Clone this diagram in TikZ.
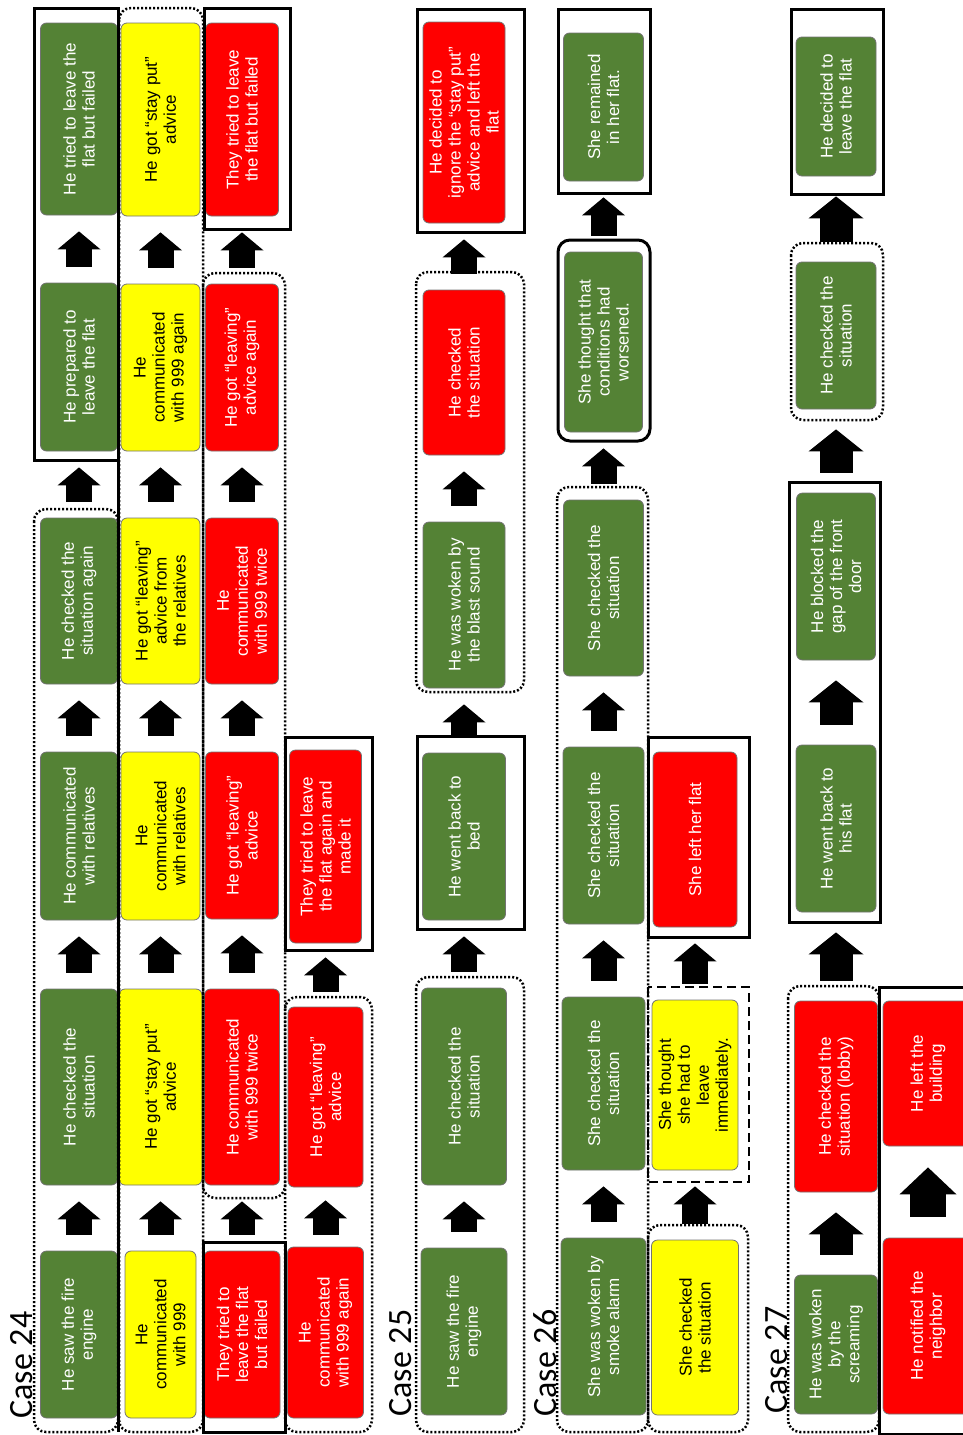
\documentclass[tikz,border=0pt]{standalone}
\usepackage{fontspec}
\setmainfont{Liberation Sans}
\newfontfamily\casefont{Carlito}
\usepackage{xcolor}
\usepackage{tikz}
\usetikzlibrary{arrows.meta}

\definecolor{evgreen}{RGB}{84,130,53}
\definecolor{evred}{RGB}{255,0,0}
\definecolor{evyellow}{RGB}{255,255,0}

\tikzset{
  event/.style={rounded corners=6pt, draw=black!55, line width=0.8pt, rotate=90,
    align=center, inner sep=2pt, minimum width=167pt, minimum height=78pt,
    font=\fontsize{17}{19}\selectfont},
  green event/.style={event, fill=evgreen, text=white},
  yellow event/.style={event, fill=evyellow, text=black},
  red event/.style={event, fill=evred, text=white},
  casetag/.style={rotate=90, inner sep=0pt, font=\casefont\fontsize{34}{40}\selectfont},
  upblock/.style={line width=26pt, -{Triangle[width=43pt,length=18pt,line width=0pt]},
    shorten <=16pt, shorten >=16pt},
  bigblock/.style={line width=33pt, -{Triangle[width=55pt,length=22pt,line width=0pt]},
    shorten <=20pt, shorten >=20pt},
  wideblock/.style={line width=36pt, -{Triangle[width=57pt,length=27pt,line width=0pt]},
    shorten <=21pt, shorten >=21pt},
  dotframe/.style={line width=2.5pt, dash pattern=on 2pt off 2pt, rounded corners=12pt},
  lineframe/.style={line width=3pt},
  dashframe/.style={line width=2.5pt, dash pattern=on 9pt off 5pt},
}

\begin{document}
\begin{tikzpicture}[x=1pt,y=1pt,yscale=-1,xscale=1]
\useasboundingbox (0,0) rectangle (963,1435);

%Case 24
\node[casetag] (t24) at (22,1365) {Case 24};

% column 1
\node[green event, minimum height=77pt] (c24a1) at (79,1334.5) {He saw the fire\\engine};
\node[green event, minimum width=196pt, minimum height=77pt] (c24a2) at (79,1087) {He checked the\\situation};
\node[green event, minimum width=168pt, minimum height=77pt] (c24a3) at (79,836) {He communicated\\with relatives};
\node[green event, minimum width=166pt, minimum height=77pt] (c24a4) at (79,601) {He checked the\\situation again};
\node[green event, minimum width=168pt, minimum height=77pt] (c24a5) at (79,367) {He prepared to\\leave the flat};
\node[green event, minimum width=192pt, minimum height=77pt] (c24a6) at (79,119) {He tried to leave the\\flat but failed};

% column 2
\node[yellow event, minimum height=71pt] (c24b1) at (160.5,1334.5) {He\\communicated\\with 999};
\node[yellow event, minimum width=196pt, minimum height=83pt] (c24b2) at (160.5,1087) {He got “stay put”\\advice};
\node[yellow event, minimum width=168pt, minimum height=79pt] (c24b3) at (160.5,836) {He\\communicated\\with relatives};
\node[yellow event, minimum width=166pt, minimum height=79pt] (c24b4) at (160.5,601) {He got “leaving”\\advice from\\the relatives};
\node[yellow event, minimum height=79pt] (c24b5) at (160.5,367.5) {He\\communicated\\with 999 again};
\node[yellow event, minimum width=193pt, minimum height=79pt] (c24b6) at (160.5,119.5) {He got “stay put”\\advice};

% column 3
\node[red event, minimum height=76pt] (c24c1) at (242,1334.5) {They tried to\\leave the flat\\but failed};
\node[red event, minimum width=196pt, minimum height=75pt] (c24c2) at (242,1087) {He communicated\\with 999 twice};
\node[red event, minimum height=73pt] (c24c3) at (242,835.5) {He got “leaving”\\advice};
\node[red event, minimum width=166pt, minimum height=73pt] (c24c4) at (242,601) {He\\communicated\\with 999 twice};
\node[red event, minimum height=73pt] (c24c5) at (242,367.5) {He got “leaving”\\advice again};
\node[red event, minimum width=193pt, minimum height=73pt] (c24c6) at (242,119.5) {They tried to leave\\the flat but failed};

% column 4
\node[red event, minimum width=171pt, minimum height=76pt] (c24d1) at (325.5,1332.5) {He\\communicated\\with 999 again};
\node[red event, minimum width=180pt, minimum height=75pt] (c24d2) at (325.5,1097) {He got “leaving”\\advice};
\node[red event, minimum width=193pt, minimum height=72pt] (c24d3) at (325.5,846.5) {They tried to leave\\the flat again and\\made it};

%Case 25
\node[casetag] (t25) at (401,1363) {Case 25};

\node[green event, minimum height=86pt] (c25a1) at (464,1331.5) {He saw the fire\\engine};
\node[green event, minimum width=197pt, minimum height=85pt] (c25a2) at (464,1086.5) {He checked the\\situation};
\node[green event, minimum height=83pt] (c25a3) at (464,836.5) {He went back to\\bed};
\node[green event, minimum width=166pt, minimum height=82pt] (c25a4) at (464,605) {He was woken by\\the blast sound};
\node[red event, minimum width=165pt, minimum height=82pt] (c25a5) at (464,372.5) {He checked\\the situation};
\node[red event, minimum width=201pt, minimum height=82pt] (c25a6) at (464,122.5) {He decided to\\ignore the “stay put”\\advice and left the\\flat};

%Case 26
\node[casetag] (t26) at (545,1363) {Case 26};

% column 1
\node[green event, minimum width=177pt, minimum height=85pt] (c26a1) at (603.5,1326.5) {She was woken by\\smoke alarm};
\node[green event, minimum width=173pt, minimum height=83pt] (c26a2) at (603.5,1083.5) {She checked the\\situation};
\node[green event, minimum width=177pt, minimum height=81pt] (c26a3) at (603.5,835.5) {She checked the\\situation};
\node[green event, minimum width=176pt, minimum height=80pt] (c26a4) at (603.5,588) {She checked the\\situation};
\node[green event, minimum width=180pt, minimum height=78pt] (c26a5) at (603.5,342) {She thought that\\conditions had\\worsened.};
\node[green event, minimum width=148pt, minimum height=80pt] (c26a6) at (603.5,107) {She remained\\in her flat.};

% column 2
\node[yellow event, minimum width=175pt, minimum height=87pt] (c26b1) at (695,1327.5) {She checked\\the situation};
\node[yellow event, minimum width=170pt, minimum height=86pt] (c26b2) at (695,1085) {She thought\\she had to\\leave\\immediately.};
\node[red event, minimum width=175pt, minimum height=84pt] (c26b3) at (695,839.5) {She left her flat};

%Case 27
\node[casetag] (t27) at (777,1360) {Case 27};

% column 1
\node[green event, minimum width=139pt, minimum height=83pt] (c27a1) at (836,1344.5) {He was woken\\by the\\screaming};
\node[red event, minimum width=191pt, minimum height=83pt] (c27a2) at (836,1096.5) {He checked the\\situation (lobby)};
\node[green event, minimum height=80pt] (c27a3) at (836,828.5) {He went back to\\his flat};
\node[green event, minimum height=79pt] (c27a4) at (836,576.5) {He blocked the\\gap of the front\\door};
\node[green event, minimum width=147pt, minimum height=80pt] (c27a5) at (836,335.5) {He checked the\\situation};
\node[green event, minimum width=139pt, minimum height=80pt] (c27a6) at (836,106.5) {He decided to\\leave the flat};

% column 2
\node[red event, minimum width=176pt, minimum height=90pt] (c27b1) at (928,1326) {He notified the\\neighbor};
\node[red event, minimum width=145pt, minimum height=90pt] (c27b2) at (928,1073.5) {He left the\\building};

%Shape: frames
\draw[dotframe] (34,509) rectangle (118,1432);
\draw[lineframe] (34,8) rectangle (118,460);
\draw[dotframe] (119,8) rectangle (203,1432);
\draw[lineframe] (118,460) -- (118,1432);
\draw[lineframe] (204,8) rectangle (290,229);
\draw[dotframe] (203,273) rectangle (285,1198);
\draw[lineframe] (203,1242) rectangle (285,1432);
\draw[lineframe] (285,737) rectangle (372,950);
\draw[dotframe] (285,997) rectangle (372,1432);

\draw[dotframe] (416,977) rectangle (524,1432);
\draw[lineframe] (417,736) rectangle (524,929);
\draw[dotframe] (416,272) rectangle (524,692);
\draw[lineframe] (417,9) rectangle (524,232);

\draw[dotframe] (557,487) rectangle (648,1432);
\draw[lineframe, rounded corners=12pt] (558,240) rectangle (650,441);
\draw[lineframe] (558,9) rectangle (650,193);
\draw[dotframe] (648,1225) rectangle (748,1432);
\draw[dashframe] (648,987) rectangle (749,1182);
\draw[lineframe] (648,737) rectangle (749,937);

\draw[dotframe] (788,986) rectangle (879,1432);
\draw[lineframe] (789,482) rectangle (880,922);
\draw[dotframe] (791,243) rectangle (883,420);
\draw[lineframe] (791,9) rectangle (883,194);
\draw[lineframe] (879,987) rectangle (990,1434);

%Block arrows
\draw[upblock] (c24a1) -- (c24a2);
\draw[upblock] (c24a2) -- (c24a3);
\draw[upblock] (c24a3) -- (c24a4);
\draw[upblock] (c24a4) -- (c24a5);
\draw[upblock] (c24a5) -- (c24a6);
\draw[upblock] (c24b1) -- (c24b2);
\draw[upblock] (c24b2) -- (c24b3);
\draw[upblock] (c24b3) -- (c24b4);
\draw[upblock] (c24b4) -- (c24b5);
\draw[upblock] (c24b5) -- (c24b6);
\draw[upblock] (c24c1) -- (c24c2);
\draw[upblock] (c24c2) -- (c24c3);
\draw[upblock] (c24c3) -- (c24c4);
\draw[upblock] (c24c4) -- (c24c5);
\draw[upblock] (c24c5) -- (c24c6);
\draw[upblock, shorten <=12pt, shorten >=13pt] (c24d1) -- (c24d2);
\draw[upblock, shorten <=15pt, shorten >=14pt] (c24d2) -- (c24d3);

\draw[upblock] (c25a1) -- (c25a2);
\draw[upblock] (c25a2) -- (c25a3);
\draw[upblock] (c25a3) -- (c25a4);
\draw[upblock] (c25a4) -- (c25a5);
\draw[upblock] (c25a5) -- (c25a6);

\draw[upblock] (c26a1) -- (c26a2);
\draw[upblock] (c26a2) -- (c26a3);
\draw[upblock] (c26a3) -- (c26a4);
\draw[upblock] (c26a4) -- (c26a5);
\draw[upblock] (c26a5) -- (c26a6);
\draw[upblock] (c26b1) -- (c26b2);
\draw[upblock] (c26b2) -- (c26b3);

\draw[bigblock] (c27a1) -- (c27a2);
\draw[bigblock] (c27a2) -- (c27a3);
\draw[bigblock] (c27a3) -- (c27a4);
\draw[bigblock] (c27a4) -- (c27a5);
\draw[bigblock] (c27a5) -- (c27a6);
\draw[wideblock] (c27b1) -- (c27b2);

\end{tikzpicture}
\end{document}
